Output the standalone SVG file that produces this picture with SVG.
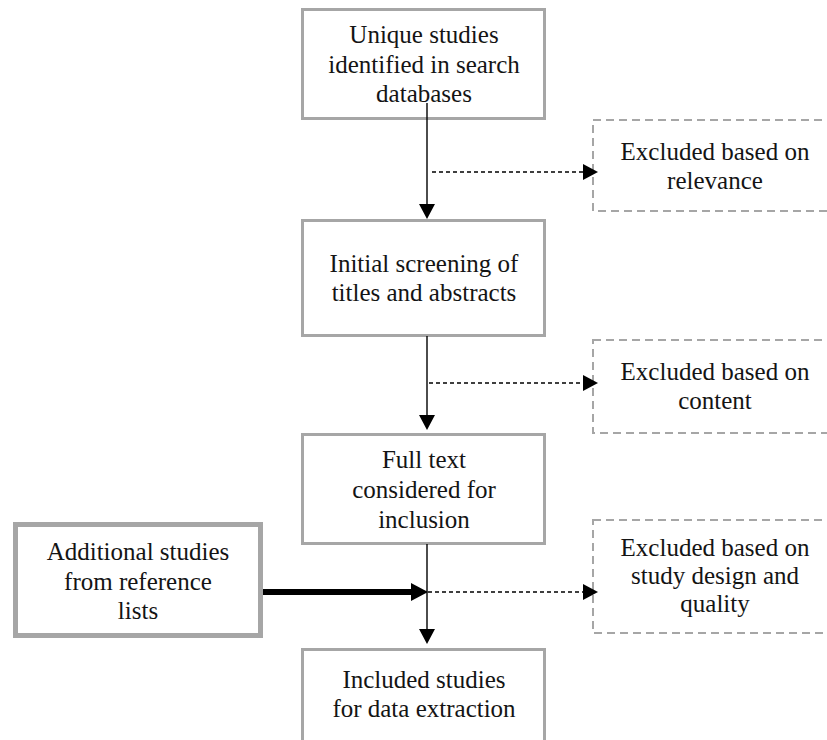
<svg xmlns="http://www.w3.org/2000/svg" width="827" height="740" viewBox="0 0 827 740">
  <style>
    .box { fill: #ffffff; stroke: #a6a6a6; stroke-width: 3; }
    .box-thick { fill: #ffffff; stroke: #a6a6a6; stroke-width: 5; }
    .box-dash { fill: none; stroke: #a6a6a6; stroke-width: 2; stroke-dasharray: 8 5; }
    .lbl { font-family: 'Liberation Serif', 'Times New Roman', serif; font-size: 25px; fill: #141414; text-anchor: middle; }
    .flow { stroke: #000000; stroke-width: 1.4; fill: none; }
    .flow-dash { stroke: #000000; stroke-width: 1.4; fill: none; stroke-dasharray: 4 3; }
    .flow-bold { stroke: #000000; stroke-width: 6; fill: none; }
    .head { fill: #000000; }
  </style>
  <rect width="827" height="740" fill="#ffffff"/>

  <g id="node-unique">
    <rect class="box" x="302.5" y="9.5" width="242" height="109"/>
    <text class="lbl" x="424" y="43">Unique studies</text>
    <text class="lbl" x="424" y="73">identified in search</text>
    <text class="lbl" x="424" y="102">databases</text>
  </g>

  <g id="node-screening">
    <rect class="box" x="302.5" y="220.5" width="242" height="115"/>
    <text class="lbl" x="424" y="272">Initial screening of</text>
    <text class="lbl" x="424" y="301">titles and abstracts</text>
  </g>

  <g id="node-fulltext">
    <rect class="box" x="302.5" y="434.5" width="242" height="109"/>
    <text class="lbl" x="424" y="468">Full text</text>
    <text class="lbl" x="424" y="498">considered for</text>
    <text class="lbl" x="424" y="528">inclusion</text>
  </g>

  <g id="node-included">
    <rect class="box" x="302.5" y="649.5" width="242" height="120"/>
    <text class="lbl" x="424" y="688">Included studies</text>
    <text class="lbl" x="424" y="717">for data extraction</text>
  </g>

  <g id="node-additional">
    <rect class="box-thick" x="15.5" y="524.5" width="245" height="111"/>
    <text class="lbl" x="138" y="560">Additional studies</text>
    <text class="lbl" x="138" y="590">from reference</text>
    <text class="lbl" x="138" y="619">lists</text>
  </g>

  <g id="node-excl-relevance">
    <rect class="box-dash" x="593" y="120" width="260" height="91"/>
    <text class="lbl" x="715" y="160">Excluded based on</text>
    <text class="lbl" x="715" y="189">relevance</text>
  </g>

  <g id="node-excl-content">
    <rect class="box-dash" x="593" y="340" width="260" height="93"/>
    <text class="lbl" x="715" y="380">Excluded based on</text>
    <text class="lbl" x="715" y="409">content</text>
  </g>

  <g id="node-excl-design">
    <rect class="box-dash" x="593" y="520" width="260" height="113"/>
    <text class="lbl" x="715" y="556">Excluded based on</text>
    <text class="lbl" x="715" y="584">study design and</text>
    <text class="lbl" x="715" y="612">quality</text>
  </g>

  <g id="connectors">
    <!-- main vertical flow -->
    <line class="flow" x1="427" y1="103" x2="427" y2="205"/>
    <polygon class="head" points="419,204 435,204 427,219"/>
    <line class="flow" x1="427" y1="336" x2="427" y2="416"/>
    <polygon class="head" points="419,415 435,415 427,430"/>
    <line class="flow" x1="427" y1="544" x2="427" y2="630"/>
    <polygon class="head" points="419,629 435,629 427,644"/>

    <!-- exclusions -->
    <line class="flow-dash" x1="432" y1="172" x2="584" y2="172"/>
    <polygon class="head" points="583,164 583,180 598,172"/>
    <line class="flow-dash" x1="429" y1="383" x2="584" y2="383"/>
    <polygon class="head" points="583,375 583,391 598,383"/>
    <line class="flow-dash" x1="428" y1="592" x2="584" y2="592"/>
    <polygon class="head" points="583,584 583,600 598,592"/>

    <!-- studies added from reference lists -->
    <line class="flow-bold" x1="263" y1="592" x2="413" y2="592"/>
    <polygon class="head" points="411,583 411,601 428,592"/>
  </g>
</svg>
